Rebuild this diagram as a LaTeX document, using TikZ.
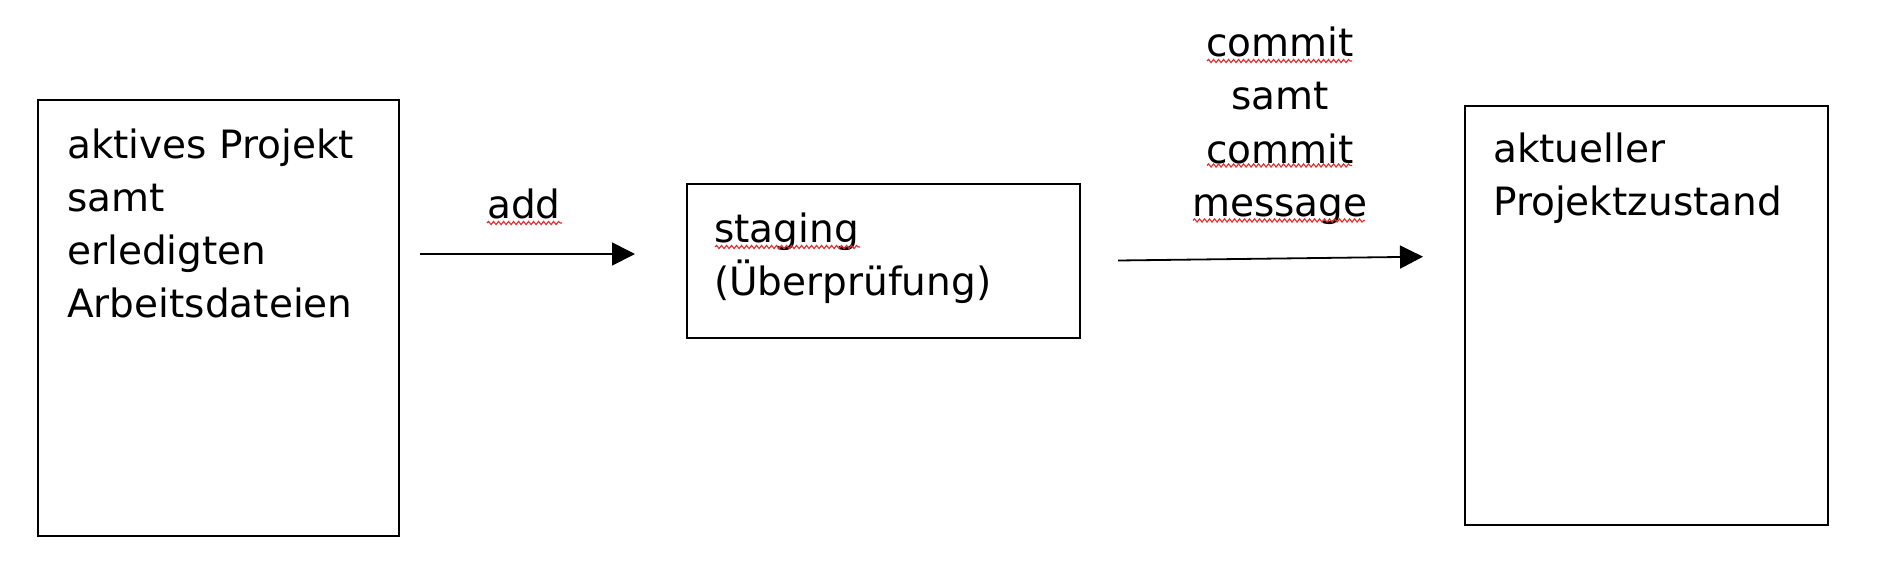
\documentclass[tikz,border=0pt]{standalone}
\usepackage{fontspec}
\setmainfont{DejaVu Sans}
\usetikzlibrary{arrows.meta,decorations.pathmorphing}
\definecolor{spellred}{RGB}{225,45,45}
\begin{document}
\begin{tikzpicture}[x=1pt,y=-1pt,
  box/.style={draw=black, line width=1.6pt, inner sep=0pt, anchor=north west},
  lbl/.style={inner sep=0pt, font=\fontsize{39}{53.3}\selectfont},
  conn/.style={line width=1.8pt, -{Triangle[length=23pt,width=23pt]}},
  wavy/.style={draw=spellred, line width=1.1pt, decorate,
    decoration={snake, segment length=5pt, amplitude=1.6pt}}]
\useasboundingbox (0,0) rectangle (1890,574);

% boxes
\node[box, minimum width=361pt, minimum height=436pt] (work) at (37,99) {};
\node[box, minimum width=393pt, minimum height=154pt] (stage) at (686,183) {};
\node[box, minimum width=363pt, minimum height=419pt] (repo) at (1464,105) {};

% box texts
\node[lbl, anchor=base west] (worktext) at (67,158)
  {\vtop{\hbox{aktives Projekt}\hbox{samt}\hbox{erledigten}\hbox{Arbeitsdateien}}};
\node[lbl, anchor=base west] (stagetext) at (714,242)
  {\vtop{\hbox{staging}\hbox{(Überprüfung)}}};
\node[lbl, anchor=base west] (repotext) at (1493,162)
  {\vtop{\hbox{aktueller}\hbox{Projektzustand}}};

% connector labels
\node[lbl, anchor=base] (addlbl) at (524,218) {add};
\node[lbl, anchor=base] (commitlbl) at (1280,56.5)
  {\vtop{\hbox to 220pt{\hfil commit\hfil}\hbox to 220pt{\hfil samt\hfil}\hbox to 220pt{\hfil commit\hfil}\hbox to 220pt{\hfil message\hfil}}};

% connectors
\coordinate (a1s) at (420,254);
\coordinate (a1e) at (635,254);
\coordinate (a2s) at (1118,260.5);
\coordinate (a2e) at (1423,256.7);
\draw[conn] (a1s) -- (a1e);
\draw[conn] (a2s) -- (a2e);

% spell-check underlines
\draw[wavy] (487,223) -- (562,223);
\draw[wavy] (715,247) -- (860,247);
\draw[wavy] (1207,61) -- (1352,61);
\draw[wavy] (1207,165.5) -- (1352,165.5);
\draw[wavy] (1193,220.5) -- (1365,220.5);
\end{tikzpicture}
\end{document}
